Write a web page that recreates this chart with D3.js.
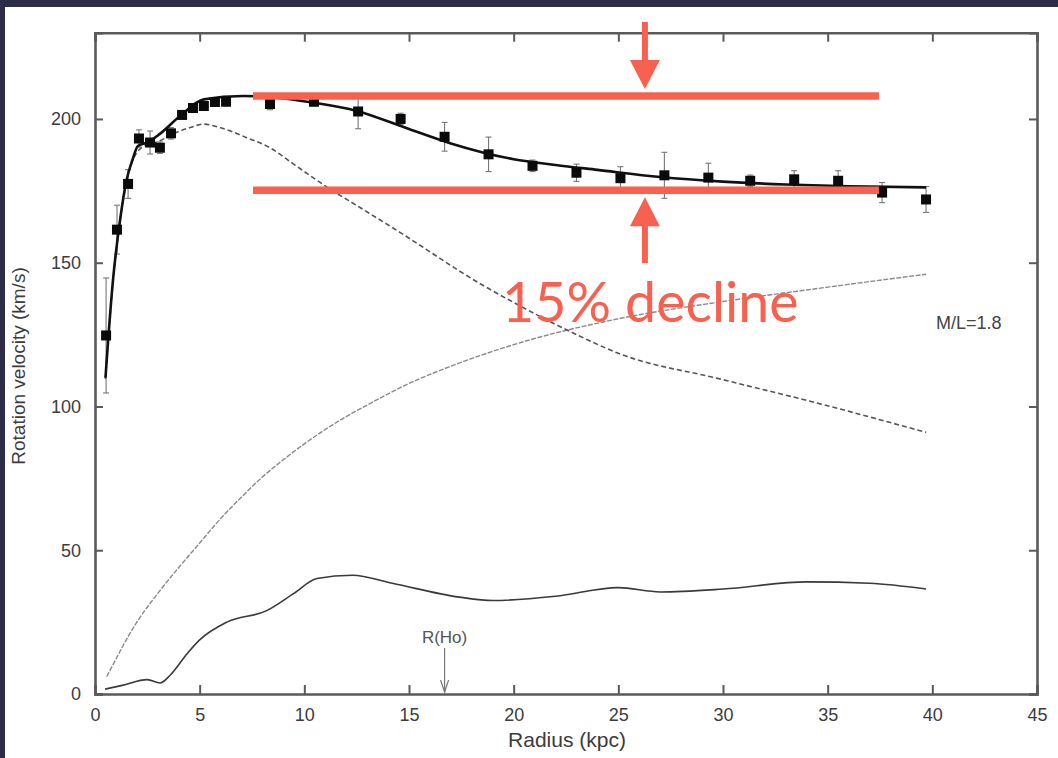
<!DOCTYPE html>
<html>
<head>
<meta charset="utf-8">
<script src="https://cdn.jsdelivr.net/npm/d3@7/dist/d3.min.js"></script>
<style>
  html, body { margin: 0; padding: 0; background: #fff; }
  svg { display: block; }
</style>
</head>
<body>
<svg id="chart" width="1058" height="758"></svg>
<script>
// Observed rotation curve (kpc, km/s) with 1-sigma errors
const radius   = [0.53, 1.05, 1.58, 2.1, 2.63, 3.1, 3.63, 4.16, 4.68, 5.2, 5.73, 6.26,
                  8.36, 10.46, 12.57, 14.6, 16.7, 18.8, 20.9, 23.0, 25.1, 27.2, 29.3,
                  31.3, 33.4, 35.5, 37.6, 39.7];
const velocity = [124.7, 161.5, 177.4, 193.2, 191.8, 190.0, 195.0, 201.4, 203.8, 204.5, 205.9, 206.0,
                  205.2, 206.0, 202.6, 200.0, 193.8, 187.7, 183.7, 181.3, 179.4, 180.4, 179.6,
                  178.5, 179.0, 178.5, 174.4, 172.0];
const velErr   = [20, 8.5, 5, 3, 4, 2, 2, 1.5, 1.5, 1.5, 1.5, 1.5,
                  2, 1.5, 6, 2, 5, 6, 2, 3, 4, 8, 5,
                  2, 3, 3.5, 3.5, 4.5];

// Model fit: total
const totalR = [0.5, 0.86, 1.2, 1.5, 1.8, 2.05, 2.5, 3.1, 4.06, 5.2, 7.07, 8.7, 10.4, 12.5,
                15, 17, 20, 22, 24, 27, 30, 33, 36, 39.7];
const totalV = [110, 144, 165, 178.5, 186, 190.6, 191.8, 194.8, 201, 206.8, 208, 207.4, 205.7, 202.8,
                196.5, 191.5, 186, 184, 182.3, 179.8, 178.2, 177.2, 176.6, 176.2];

// Stellar disk (M/L = 1.8)
const diskR = [0.5, 0.86, 1.2, 1.5, 1.8, 2.23, 3.1, 3.73, 4.54, 5.16, 5.97, 7.25, 8.36, 9.47, 11.1, 12.66,
               14.6, 18.4, 20.3, 23, 25, 29.9, 34.6, 39.7];
const diskV = [109.5, 143.5, 164.5, 178, 185.5, 190, 192.4, 194.8, 197, 198.2, 197, 193.5, 190, 184.4, 176.2, 169.2,
               160.4, 142.7, 135, 125, 118.5, 109.5, 101, 91];

// Dark halo
const haloR = [0.56, 2, 3, 4, 5, 6, 7, 8, 9, 10, 11, 12, 13, 15, 17, 20, 25, 30, 35, 39.7];
const haloV = [6, 25, 35, 44, 52.5, 61, 68.5, 75.5, 81.5, 87, 92, 96.5, 100.5, 108, 114, 121.5, 130.5, 136.5, 141.5, 146];

// Gas
const gasR = [0.48, 1.3, 2.5, 3.1, 3.6, 4.4, 5.0, 6.3, 8.2, 9.5, 10.6, 12.3, 14.2, 17.4,
              19, 22, 25, 27, 30, 34, 37, 39.7];
const gasV = [1.7, 3, 5, 3.8, 6.6, 14, 18.8, 25, 29, 35, 40.2, 41.3, 38.5, 33.7,
              32.5, 34, 37, 35.5, 36.5, 39, 38.5, 36.5];

// Axis ticks
const xTicks = [0, 5, 10, 15, 20, 25, 30, 35, 40, 45];
const yTicks = [0, 50, 100, 150, 200];

// Annotation values
const maxLevel = 208;      // peak of the curve
const flatLevel = 175.2;   // outer flat part
const bandStart = 7.55, bandEnd = 37.45, arrowAt = 26.27;
const haloRadius = 16.7;   // R(Ho)

const svg = d3.select("#chart");
const W = 1058, H = 758;
const margin = { left: 95, right: 1037, top: 32.7, bottom: 694 };

const x = d3.scaleLinear().domain([0, 45]).range([margin.left, margin.right]);
const y = d3.scaleLinear().domain([0, 230]).range([margin.bottom, margin.top]);

// Slide frame
svg.append("rect").attr("x", 0).attr("y", 0).attr("width", W).attr("height", H).attr("fill", "#ffffff");
svg.append("rect").attr("x", 0).attr("y", 0).attr("width", W).attr("height", 7).attr("fill", "#2c2b48");
svg.append("rect").attr("x", 0).attr("y", 0).attr("width", 5).attr("height", H).attr("fill", "#2c2b48");

const frameColor = "#5a5a5a";
const labelColor = "#3c3c3c";
const font = "'Liberation Sans', Arial, sans-serif";

// Axes with inward ticks on all four sides
const axB = d3.axisBottom(x).tickValues(xTicks).tickSize(-9).tickPadding(14).tickFormat(d3.format("d"));
const axT = d3.axisTop(x).tickValues(xTicks).tickSize(-9).tickFormat("");
const axL = d3.axisLeft(y).tickValues(yTicks).tickSize(-8).tickPadding(14).tickFormat(d3.format("d"));
const axR = d3.axisRight(y).tickValues(yTicks).tickSize(-8).tickFormat("");

function styleAxis(g) {
  g.select(".domain").attr("stroke", frameColor).attr("stroke-width", 2.6);
  g.selectAll(".tick line").attr("stroke", frameColor).attr("stroke-width", 2);
  g.selectAll(".tick text").attr("fill", labelColor).attr("font-family", font).attr("font-size", 18);
}
svg.append("g").attr("transform", `translate(0,${margin.bottom})`).call(axB).call(styleAxis);
svg.append("g").attr("transform", `translate(0,${margin.top})`).call(axT).call(styleAxis);
svg.append("g").attr("transform", `translate(${margin.left},0)`).call(axL).call(styleAxis);
svg.append("g").attr("transform", `translate(${margin.right},0)`).call(axR).call(styleAxis);

// Axis titles
svg.append("text").attr("x", 567).attr("y", 747).attr("text-anchor", "middle")
  .attr("font-family", font).attr("font-size", 21).attr("fill", labelColor).text("Radius (kpc)");
svg.append("text").attr("transform", "translate(25,366) rotate(-90)").attr("text-anchor", "middle")
  .attr("font-family", font).attr("font-size", 19).attr("fill", labelColor).text("Rotation velocity (km/s)");

// Model curves
const line = d3.line().x(d => x(d[0])).y(d => y(d[1])).curve(d3.curveMonotoneX);
const zipped = (a, b) => a.map((v, i) => [v, b[i]]);

svg.append("path").attr("d", line(zipped(haloR, haloV)))
  .attr("fill", "none").attr("stroke", "#8a8a8a").attr("stroke-width", 1.4).attr("stroke-dasharray", "5,1.5");
svg.append("path").attr("d", line(zipped(gasR, gasV)))
  .attr("fill", "none").attr("stroke", "#3a3a3a").attr("stroke-width", 1.6);
svg.append("path").attr("d", line(zipped(diskR, diskV)))
  .attr("fill", "none").attr("stroke", "#555").attr("stroke-width", 1.6).attr("stroke-dasharray", "5,3");

// Error bars
const eb = svg.append("g").attr("stroke", "#777").attr("stroke-width", 1.1);
radius.forEach((r, i) => {
  const cx = x(r), y0 = y(velocity[i] - velErr[i]), y1 = y(velocity[i] + velErr[i]);
  eb.append("line").attr("x1", cx).attr("x2", cx).attr("y1", y0).attr("y2", y1);
  eb.append("line").attr("x1", cx - 3).attr("x2", cx + 3).attr("y1", y0).attr("y2", y0);
  eb.append("line").attr("x1", cx - 3).attr("x2", cx + 3).attr("y1", y1).attr("y2", y1);
});

svg.append("path").attr("d", line(zipped(totalR, totalV)))
  .attr("fill", "none").attr("stroke", "#111").attr("stroke-width", 2.6);

// Data points
const sq = 10;
svg.append("g").selectAll("rect").data(radius).join("rect")
  .attr("x", d => x(d) - sq / 2).attr("y", (d, i) => y(velocity[i]) - sq / 2)
  .attr("width", sq).attr("height", sq).attr("fill", "#0a0a0a");

// M/L label
svg.append("text").attr("x", 936).attr("y", 329).attr("font-family", font).attr("font-size", 18)
  .attr("fill", "#444").text("M/L=1.8");

// R(Ho) marker
const rx = x(haloRadius);
svg.append("text").attr("x", rx).attr("y", 643).attr("text-anchor", "middle").attr("font-family", font)
  .attr("font-size", 17).attr("fill", "#555").text("R(Ho)");
svg.append("line").attr("x1", rx).attr("x2", rx).attr("y1", 648).attr("y2", margin.bottom - 1)
  .attr("stroke", "#777").attr("stroke-width", 1.2);
svg.append("path").attr("d", `M${rx - 4},${margin.bottom - 14} L${rx},${margin.bottom - 2} L${rx + 4},${margin.bottom - 14}`)
  .attr("fill", "none").attr("stroke", "#777").attr("stroke-width", 1.2);

// Decline annotation
const red = "#f8604f";
const ax = x(arrowAt);
const yTop = y(maxLevel), yLow = y(flatLevel);
svg.append("line").attr("x1", x(bandStart)).attr("x2", x(bandEnd)).attr("y1", yTop).attr("y2", yTop)
  .attr("stroke", red).attr("stroke-width", 7.5);
svg.append("line").attr("x1", x(bandStart)).attr("x2", x(bandEnd)).attr("y1", yLow).attr("y2", yLow)
  .attr("stroke", red).attr("stroke-width", 7.5);

// down arrow onto the upper line
svg.append("rect").attr("x", ax - 3).attr("y", 22).attr("width", 6).attr("height", yTop - 7 - 28 - 22 + 2).attr("fill", red);
svg.append("path").attr("d", `M${ax - 15},${yTop - 7 - 29} L${ax + 15},${yTop - 7 - 29} L${ax},${yTop - 7} Z`).attr("fill", red);
// up arrow onto the lower line
svg.append("rect").attr("x", ax - 3).attr("y", yLow + 7 + 27).attr("width", 6).attr("height", 263 - (yLow + 7 + 27)).attr("fill", red);
svg.append("path").attr("d", `M${ax - 15},${yLow + 7 + 29} L${ax + 15},${yLow + 7 + 29} L${ax},${yLow + 7} Z`).attr("fill", red);

svg.append("text").attr("x", 502).attr("y", 322).attr("font-family", "Lato, 'Noto Sans', sans-serif")
  .attr("font-size", 55.5).attr("fill", red).text("15% decline");
</script>
</body>
</html>
